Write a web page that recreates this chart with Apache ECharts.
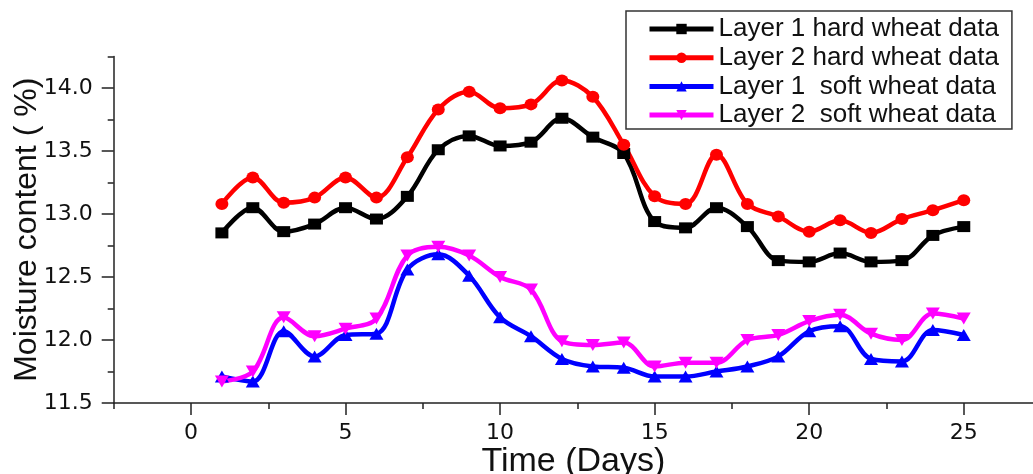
<!DOCTYPE html>
<html>
<head>
<meta charset="utf-8">
<script src="https://cdn.jsdelivr.net/npm/echarts@6/dist/echarts.min.js"></script>
<style>html,body{margin:0;padding:0;background:#fff}#c{width:1033px;height:474px}</style>
</head>
<body>
<div id="c"></div>
<script>
const days = [1,2,3,4,5,6,7,8,9,10,11,12,13,14,15,16,17,18,19,20,21,22,23,24,25];
const layer1Hard = [12.85,13.05,12.86,12.92,13.05,12.96,13.14,13.51,13.62,13.54,13.57,13.76,13.61,13.48,12.94,12.89,13.05,12.90,12.63,12.62,12.69,12.62,12.63,12.83,12.90];
const layer2Hard = [13.08,13.29,13.09,13.13,13.29,13.13,13.45,13.83,13.97,13.84,13.87,14.06,13.93,13.55,13.14,13.08,13.47,13.08,12.98,12.86,12.95,12.85,12.96,13.03,13.11];
const layer1Soft = [11.71,11.67,12.07,11.87,12.04,12.05,12.56,12.68,12.51,12.18,12.03,11.85,11.79,11.78,11.71,11.71,11.75,11.79,11.87,12.07,12.11,11.85,11.83,12.08,12.04];
const layer2Soft = [11.67,11.75,12.18,12.03,12.09,12.17,12.67,12.74,12.67,12.50,12.40,11.99,11.96,11.98,11.79,11.82,11.82,12.00,12.04,12.15,12.20,12.05,12.00,12.21,12.17];
const seriesNames = ['Layer 1 hard wheat data','Layer 2 hard wheat data','Layer 1  soft wheat data','Layer 2  soft wheat data'];
const xMajorTicks = [0,5,10,15,20,25];
const xMinorTicks = [-2.5,2.5,7.5,12.5,17.5,22.5];
const yMajorTicks = [11.5,12.0,12.5,13.0,13.5,14.0];
const yMinorTicks = [11.75,12.25,12.75,13.25,13.75,14.25];

const pair = arr => days.map((d,i)=>[d,arr[i]]);
const gridPos = {left:113.7, right:0, top:56.5, bottom:71, outerBoundsMode:'none', containLabel:false};
const axisCol = '#222';
const tickFont = {fontFamily:'DejaVu Sans', fontSize:22, color:'#111'};

function mk(name, data, color, symbol, size, rot){
  return {name, type:'line', data:pair(data), xAxisIndex:0, yAxisIndex:0,
    smooth:0.35, symbol, symbolSize:size, symbolRotate:rot||0,
    lineStyle:{color, width:4.5}, itemStyle:{color}, z:3};
}

const chart = echarts.init(document.getElementById('c'));
chart.setOption({
  animation:false,
  backgroundColor:'#fff',
  grid:[Object.assign({},gridPos), Object.assign({},gridPos)],
  legend:{
    orient:'vertical', left:626, top:11,
    itemWidth:64, itemHeight:13, itemGap:2.7,
    padding:[5,13,1,21],
    borderColor:'#333', borderWidth:1.5,
    lineStyle:{width:5},
    textStyle:{fontFamily:'Liberation Sans', fontSize:26, color:'#111'},
    data:seriesNames
  },
  xAxis:[
    {type:'value', gridIndex:0, min:-2.5, max:27.24,
     axisLine:{show:true, onZero:false, lineStyle:{color:axisCol, width:1.5}},
     axisTick:{show:true, customValues:xMajorTicks, length:12, lineStyle:{color:axisCol, width:1.5}},
     axisLabel:{customValues:xMajorTicks, margin:19, ...tickFont},
     splitLine:{show:false},
     name:'Time (Days)', nameLocation:'middle', nameGap:42, nameMoveOverlap:false,
     nameTextStyle:{fontFamily:'Liberation Sans', fontSize:34, color:'#111'}},
    {type:'value', gridIndex:1, min:-2.5, max:27.24,
     axisLine:{show:false, onZero:false}, axisLabel:{show:false}, splitLine:{show:false},
     axisTick:{show:true, customValues:xMinorTicks, length:6, lineStyle:{color:axisCol, width:1.5}}}
  ],
  yAxis:[
    {type:'value', gridIndex:0, min:11.5, max:14.25,
     axisLine:{show:true, onZero:false, lineStyle:{color:axisCol, width:1.5}},
     axisTick:{show:true, customValues:yMajorTicks, length:12, lineStyle:{color:axisCol, width:1.5}},
     axisLabel:{customValues:yMajorTicks, margin:21, formatter:v=>v.toFixed(1), ...tickFont},
     splitLine:{show:false},
     name:'Moisture content ( %)', nameLocation:'middle', nameGap:71, nameMoveOverlap:false,
     nameTextStyle:{fontFamily:'Liberation Sans', fontSize:32, color:'#111'}},
    {type:'value', gridIndex:1, min:11.5, max:14.25,
     axisLine:{show:false, onZero:false}, axisLabel:{show:false}, splitLine:{show:false},
     axisTick:{show:true, customValues:yMinorTicks, length:6, lineStyle:{color:axisCol, width:1.5}}}
  ],
  series:[
    mk(seriesNames[0], layer1Hard, '#000000', 'rect', [13,11]),
    mk(seriesNames[1], layer2Hard, '#ff0000', 'circle', [13,12]),
    mk(seriesNames[2], layer1Soft, '#0000ff', 'triangle', [14,12]),
    mk(seriesNames[3], layer2Soft, '#ff00ff', 'triangle', [14,12], 180)
  ]
});
</script>
</body>
</html>
